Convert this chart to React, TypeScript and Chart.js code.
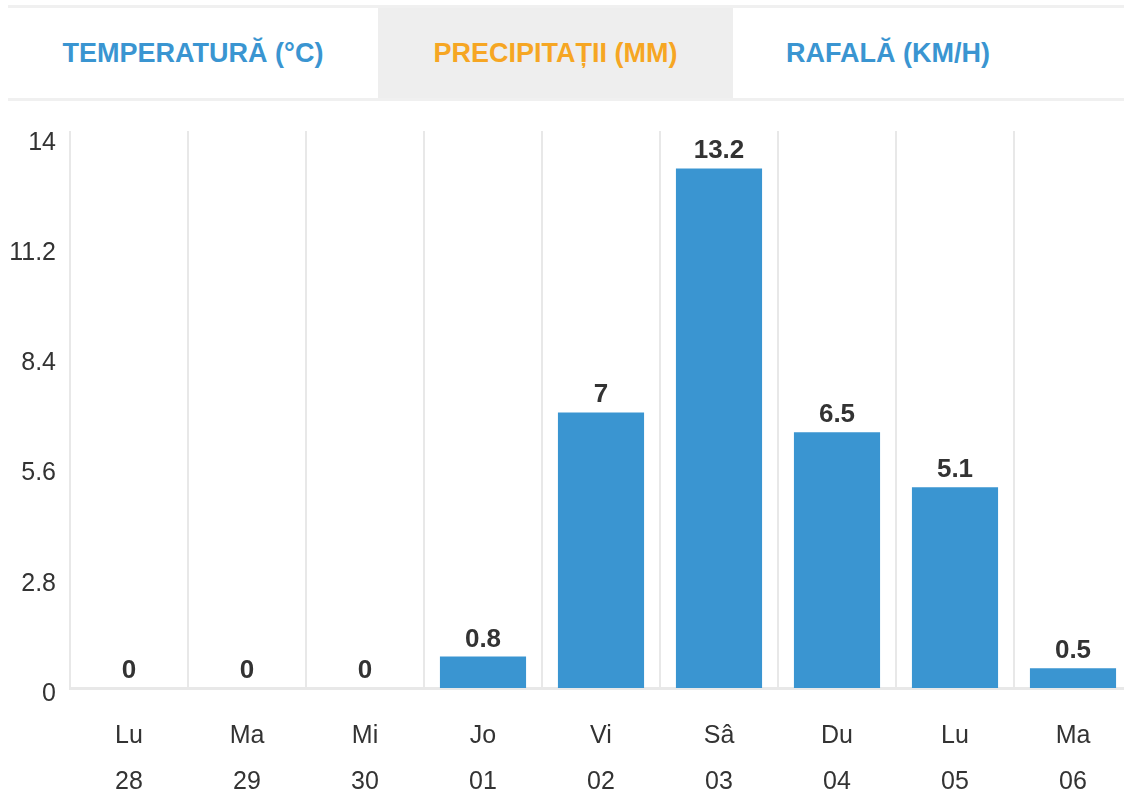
import React, { useEffect, useRef } from "react";
import { Chart, registerables } from "chart.js";

Chart.register(...registerables);

const dayNames = ["Lu", "Ma", "Mi", "Jo", "Vi", "Sâ", "Du", "Lu", "Ma"];
const dayNumbers = ["28", "29", "30", "01", "02", "03", "04", "05", "06"];
const precipitation = [0, 0, 0, 0.8, 7, 13.2, 6.5, 5.1, 0.5];
const yTicks = [0, 2.8, 5.6, 8.4, 11.2, 14];
const tabs = [
  { label: "TEMPERATURĂ (°C)", left: 8, width: 370, active: false },
  { label: "PRECIPITAȚII (MM)", left: 378, width: 355, active: true },
  { label: "RAFALĂ (KM/H)", left: 733, width: 310, active: false },
];

const BLUE = "#3a95d1";
const ORANGE = "#f6a623";
const GRID = "#e8e8e8";
const LABEL = "#333333";

const dataLabelPlugin = {
  id: "dataLabels",
  afterDatasetsDraw(chart: any) {
    const ctx = chart.ctx;
    const meta = chart.getDatasetMeta(0);
    const values = chart.data.datasets[0].data;
    ctx.save();
    ctx.font = "bold 26px 'Liberation Sans', Arial, sans-serif";
    ctx.textAlign = "center";
    ctx.textBaseline = "alphabetic";
    meta.data.forEach((bar: any, i: number) => {
      const txt = String(values[i]);
      ctx.lineWidth = 3;
      ctx.strokeStyle = "#ffffff";
      ctx.lineJoin = "round";
      ctx.strokeText(txt, bar.x, bar.y - 10);
      ctx.fillStyle = "#333333";
      ctx.fillText(txt, bar.x, bar.y - 10);
    });
    ctx.restore();
  },
};

export default function App() {
  const canvasRef = useRef<HTMLCanvasElement | null>(null);

  useEffect(() => {
    if (!canvasRef.current) return;
    const chart = new Chart(canvasRef.current, {
      type: "bar",
      data: {
        labels: dayNames.map((d, i) => [d, dayNumbers[i]]),
        datasets: [
          {
            data: precipitation,
            backgroundColor: BLUE,
            borderWidth: 0,
            categoryPercentage: 1,
            barPercentage: 0.73,
          },
        ],
      },
      options: {
        responsive: false,
        animation: false,
        devicePixelRatio: 1,
        layout: { padding: { top: 30, left: 6, right: 8, bottom: 0 } },
        plugins: {
          legend: { display: false },
          tooltip: { enabled: false },
        },
        scales: {
          x: {
            offset: true,
            grid: {
              display: true,
              offset: true,
              color: GRID,
              lineWidth: 2,
              drawTicks: false,
            },
            border: { display: true, color: GRID, width: 3 },
            ticks: {
              color: LABEL,
              padding: 25,
              maxRotation: 0,
              autoSkip: false,
              font: {
                family: "'Liberation Sans', Arial, sans-serif",
                size: 25,
                lineHeight: 1.84,
              },
            },
            afterFit: (scale: any) => {
              scale.height = 110;
            },
          },
          y: {
            min: 0,
            max: 14.15,
            grid: { display: false, drawTicks: false },
            border: { display: false },
            afterBuildTicks: (scale: any) => {
              scale.ticks = yTicks.map((v) => ({ value: v }));
            },
            ticks: {
              color: LABEL,
              padding: 14,
              labelOffset: 6,
              callback: (v: any) => String(v),
              font: {
                family: "'Liberation Sans', Arial, sans-serif",
                size: 25,
              },
            },
            afterFit: (scale: any) => {
              scale.width = 64;
            },
          },
        },
      },
      plugins: [dataLabelPlugin],
    });
    return () => chart.destroy();
  }, []);

  return (
    <div
      style={{
        position: "fixed",
        left: 0,
        top: 0,
        width: 1124,
        height: 798,
        overflow: "hidden",
        background: "#ffffff",
      }}
    >
      <div
        style={{
          position: "absolute",
          left: 8,
          right: 0,
          top: 5,
          height: 3,
          background: "#f0f0f0",
        }}
      />
      <div
        style={{
          position: "absolute",
          left: 8,
          right: 0,
          top: 98,
          height: 3,
          background: "#f0f0f0",
        }}
      />
      {tabs.map((t) => (
        <div
          key={t.label}
          style={{
            position: "absolute",
            left: t.left,
            width: t.width,
            top: 8,
            height: 90,
            background: t.active ? "#eeeeee" : "transparent",
            color: t.active ? ORANGE : BLUE,
            fontFamily: "'Liberation Sans', Arial, sans-serif",
            fontWeight: "bold",
            fontSize: 27,
            display: "flex",
            alignItems: "center",
            justifyContent: "center",
            whiteSpace: "nowrap",
          }}
        >
          {t.label}
        </div>
      ))}
      <canvas
        ref={canvasRef}
        width={1140}
        height={697}
        style={{ position: "absolute", left: 0, top: 101, width: 1140, height: 697 }}
      />
    </div>
  );
}
